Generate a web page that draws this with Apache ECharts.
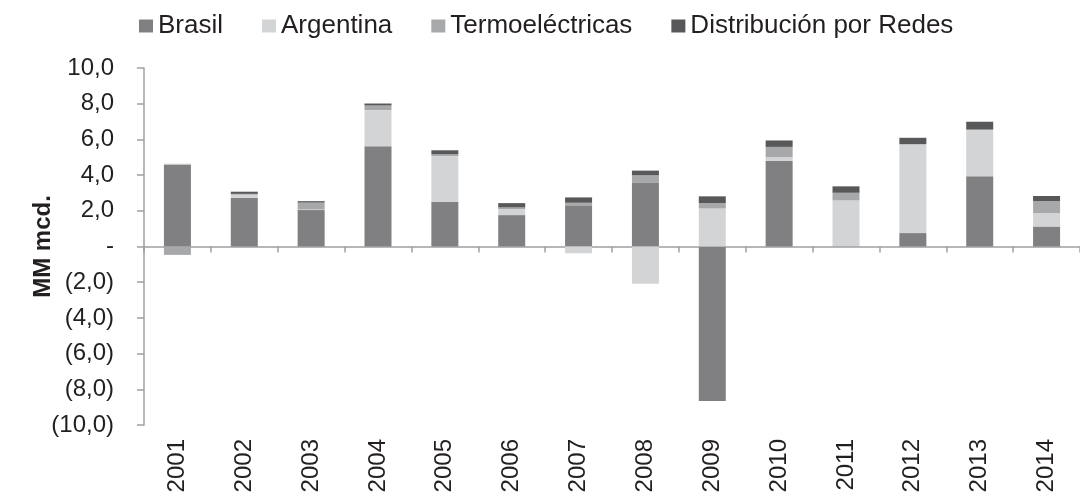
<!DOCTYPE html>
<html>
<head>
<meta charset="utf-8">
<script src="https://cdn.jsdelivr.net/npm/echarts@6/dist/echarts.min.js"></script>
<style>html,body{margin:0;padding:0;background:#fff}#c{width:1080px;height:500px}</style>
</head>
<body>
<div id="c"></div>
<script>
const years = ['2001','2002','2003','2004','2005','2006','2007','2008','2009','2010','2011','2012','2013','2014'];
const brasil = [4.60, 2.72, 2.04, 5.62, 2.49, 1.76, 2.27, 3.56, -8.65, 4.79, 0.02, 0.75, 3.93, 1.12];
const argentina = [0.04, 0.18, 0.03, 2.02, 2.57, 0.34, -0.38, -2.08, 2.13, 0.21, 2.56, 4.98, 2.62, 0.75];
const termo = [-0.47, 0.05, 0.39, 0.26, 0.11, 0.09, 0.18, 0.43, 0.30, 0.58, 0.43, 0.0, 0.0, 0.68];
const distrib = [0.0, 0.12, 0.08, 0.11, 0.22, 0.24, 0.30, 0.26, 0.38, 0.36, 0.36, 0.36, 0.44, 0.28];
const seriesNames = ['Brasil', 'Argentina', 'Termoeléctricas', 'Distribución por Redes'];
const colors = ['#808083', '#d3d4d6', '#a7a8aa', '#58585a'];

const FONT = 'Liberation Sans, Arial, sans-serif';
const TXT = '#231f20';
const AX = '#a0a0a2';

function fmt(v) {
  if (v === 0) return '-';
  const s = Math.abs(v).toFixed(1).replace('.', ',');
  return v < 0 ? '(' + s + ')' : s;
}

const chart = echarts.init(document.getElementById('c'), null, {renderer: 'canvas'});
const dataSets = [brasil, argentina, termo, distrib];
chart.setOption({
  animation: false,
  color: colors,
  textStyle: {fontFamily: FONT},
  legend: {
    top: 8, left: 134,
    itemWidth: 14, itemHeight: 13, itemGap: 39,
    icon: 'rect',
    textStyle: {fontFamily: FONT, fontSize: 26, color: TXT},
    data: seriesNames
  },
  grid: {left: 144, right: -9, top: 68, bottom: 75, containLabel: false},
  xAxis: [
    {
      type: 'category', data: years, position: 'bottom',
      axisLine: {show: true, onZero: true, lineStyle: {color: AX, width: 1.5}},
      axisTick: {show: true, length: 6, lineStyle: {color: AX, width: 1.5}},
      axisLabel: {show: false}
    },
    {
      type: 'category', data: years, position: 'bottom',
      axisLine: {show: false, onZero: false},
      axisTick: {show: false},
      axisLabel: {show: true, rotate: 90, margin: 14, fontSize: 24, fontFamily: FONT, color: TXT}
    }
  ],
  yAxis: {
    type: 'value', min: -10, max: 10, interval: 2,
    name: 'MM mcd.', nameLocation: 'middle', nameGap: 89, nameRotate: 90,
    nameMoveOverlap: false,
    nameTextStyle: {fontFamily: FONT, fontSize: 24, fontWeight: 'bold', color: TXT},
    axisLine: {show: true, lineStyle: {color: AX, width: 1.5}},
    axisTick: {show: true, length: 7, lineStyle: {color: AX, width: 1.5}},
    axisLabel: {margin: 30, fontSize: 24, fontFamily: FONT, color: TXT, formatter: fmt},
    splitLine: {show: false}
  },
  series: seriesNames.map((n, i) => ({
    name: n, type: 'bar', stack: 'total', xAxisIndex: 0,
    barWidth: 27,
    data: dataSets[i],
    itemStyle: {color: colors[i]}
  }))
});
</script>
</body>
</html>
